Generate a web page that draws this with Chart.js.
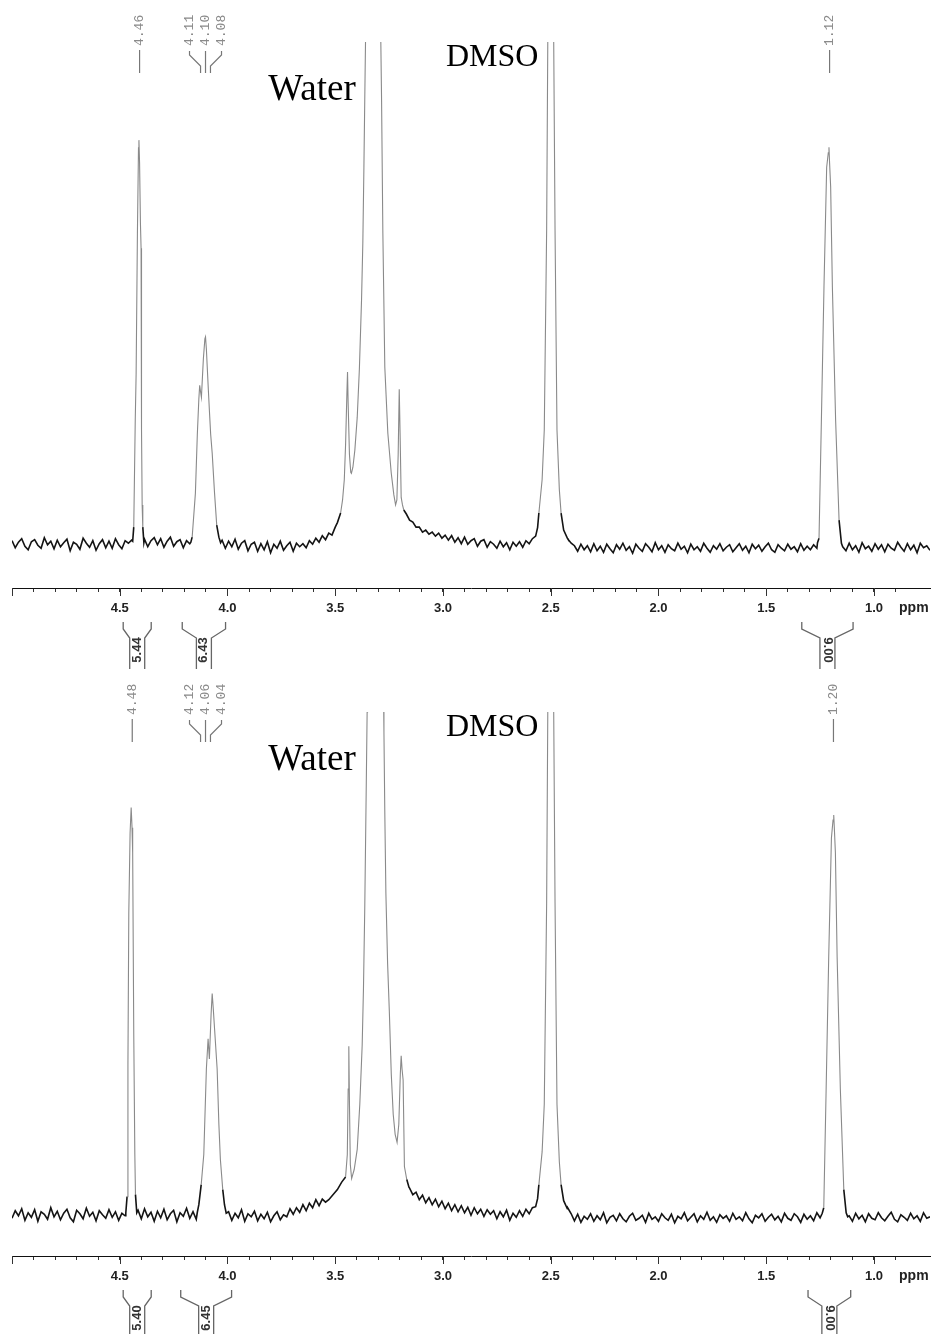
<!DOCTYPE html>
<html>
<head>
<meta charset="utf-8">
<script src="https://cdn.jsdelivr.net/npm/chart.js@4.4.1/dist/chart.umd.min.js"></script>
<style>
  body { margin: 0; background: #fff; }
  canvas { position: absolute; left: 0; }
  #topChart { top: 0; }
  #bottomChart { top: 669px; }
</style>
</head>
<body>
<canvas id="topChart" width="933" height="669"></canvas>
<canvas id="bottomChart" width="933" height="665"></canvas>
<script>
// baseline samples: one every 0.015 ppm, from 5.0 ppm down to 0.74 ppm
const gridStart = 5.0;
const gridStep = 0.015;

const topBaseline = [
  0.9,-0.5,0.6,1.3,-0.2,-0.9,0.7,1.1,0.0,-0.6,1.5,0.1,0.8,-0.7,1.0,
  -0.3,0.5,1.2,-1.1,0.6,0.2,-0.8,1.4,0.4,-0.4,0.9,-1.0,0.3,1.1,-0.5,
  0.8,-0.6,1.3,0.1,-0.7,0.9,0.4,1.0,0.5,0.5,0.5,1.2,-0.3,0.9,1.5,
  0.1,1.3,-0.4,0.8,1.6,-0.2,0.7,1.1,-0.5,0.9,0.3,0.5,0.5,0.5,0.5,
  0.5,0.5,0.5,0.5,0.5,1.0,-0.6,0.8,-0.3,1.2,-0.8,0.4,0.9,-1.1,0.2,
  0.6,-1.2,0.3,-0.9,0.7,-1.5,0.2,-0.6,0.8,-1.0,-0.1,0.6,-1.2,0.4,-0.3,
  0.3,-0.5,0.9,0.2,1.4,0.6,1.9,1.1,2.4,2.0,3.6,0,0,0,0,
  0,0,0,0,0,0,0,0,0,0,0,0,0,0,0,
  0,0,6.2,5.0,4.6,3.6,3.6,2.6,3.0,2.2,2.6,1.8,2.4,1.4,2.0,
  1.0,1.9,0.6,1.5,0.3,1.6,0.2,0.9,1.3,-0.2,0.8,1.1,-0.4,0.7,0.2,
  -0.6,0.8,-0.3,0.5,-0.9,0.6,-0.2,0.7,-0.4,0.9,0.3,1.3,1.8,0,0,
  0,0,0,0,0,0,0,1.2,0.4,-0.1,-1.2,0.2,-0.9,-0.1,-1.3,
  0.3,-1.1,-0.2,-1.4,0.2,-0.7,-1.5,0.1,-0.8,0.4,-1.0,-0.3,-1.6,0.2,-0.6,
  -1.2,0.3,-0.4,-1.3,0.5,-0.9,-0.1,-1.4,0.1,-0.7,-1.1,0.4,-0.8,-0.2,-1.5,
  0.2,-0.9,-0.3,-1.2,0.4,-0.6,-1.4,-0.1,-0.8,0.3,-1.1,-0.4,0.1,-1.3,-0.5,
  0.3,-1.0,-0.2,-1.5,0.2,-0.7,0.0,-1.2,-0.3,0.4,-0.9,-1.4,0.1,-0.6,-1.1,
  0.2,-0.8,-0.3,-1.3,0.3,-1.0,-0.2,-0.9,0.1,-0.6,0,0,0,0,0,
  0,0,0,-1.1,0.4,-0.9,-0.1,-1.4,0.5,-0.7,-0.2,-1.2,0.3,-0.8,0.1,
  -1.3,0.2,-0.6,-1.0,0.6,-0.4,-1.2,0.3,-0.9,0.0,-1.5,0.4,-0.5,-0.1,-1.0
];

const bottomBaseline = [
  -0.7,0.8,-0.2,1.2,-1.1,0.4,-0.5,1.0,-1.3,0.6,0.1,-0.9,1.4,-0.4,0.7,
  -1.0,0.3,1.1,-0.6,-1.4,0.9,0.2,-0.8,1.3,-0.3,0.5,-1.2,0.8,0.0,-0.7,
  1.0,-0.5,0.6,-1.1,0.3,-0.2,0,0,0,0.9,-0.8,1.2,-0.4,0.5,-1.3,
  0.7,-0.6,1.1,-1.0,0.2,0.9,-1.4,0.4,-0.3,1.3,-0.7,0.6,-0.9,0,0,
  0,0,0,0,0,0,0,0.6,-1.1,0.3,-0.6,1.0,-1.3,0.2,-0.4,
  0.7,-1.2,0.1,-0.8,0.5,-1.4,-0.2,0.6,-1.0,0.0,-0.4,1.2,0.1,1.4,0.5,
  2.0,0.8,2.3,1.4,3.0,1.8,3.1,2.5,0,0,0,0,0,0,0,
  0,0,0,0,0,0,0,0,0,0,0,0,0,0,0,
  0,0,0,5.3,4.0,4.5,3.0,3.9,2.4,3.4,2.0,3.1,1.6,2.7,1.2,
  2.3,0.8,2.0,0.6,1.8,0.4,1.5,-0.1,1.4,0.2,1.1,-0.3,1.0,0.1,0.8,
  -0.8,0.6,-0.4,0.9,-1.1,0.3,-0.5,0.8,-0.3,1.1,0.2,1.4,1.6,0,0,
  0,0,0,0,0,0,0,1.3,0.2,-1.2,0.1,-1.5,-0.3,-0.9,0.2,
  -1.3,-0.2,-1.0,0.4,-1.6,-0.5,-0.1,-1.2,0.2,-0.8,-1.4,-0.3,0.3,-1.1,-0.7,
  -0.1,-1.5,0.3,-0.9,-0.4,-1.3,0.2,-0.6,-1.1,0.1,-1.6,-0.3,-0.8,0.4,-1.2,
  -0.5,0.2,-1.4,-0.2,-0.9,0.5,-1.1,-0.4,-1.5,0.0,-0.7,-0.2,-1.3,0.3,-0.9,
  -0.4,-1.2,0.4,-0.8,-1.6,-0.1,-0.6,0.2,-1.3,-0.5,0.1,-1.0,-0.3,-1.4,0.3,
  -0.7,-1.1,0.2,-0.4,-1.5,0.1,-0.9,-0.2,-1.2,0.4,-0.6,0,0,0,0,
  0,0,0,0,-0.2,-1.3,0.3,-0.8,-0.1,-1.4,0.2,-0.7,-1.0,0.4,-0.6,
  -1.2,-0.3,0.5,-0.9,-1.4,0.0,-0.5,-1.1,0.3,-0.8,-0.2,-1.3,0.4,-0.7,-0.4
];

// peak regions, [ppm, intensity]; replace the baseline samples inside their span
const topPeaks = [
  [[4.440,0.8],[4.435,3.6],[4.428,25],[4.424,34],[4.418,62],[4.413,79],[4.411,80.5],[4.408,76],
   [4.404,64],[4.401,59],[4.399,23],[4.396,8],[4.393,3.6],[4.388,0.5]],
  [[4.170,0.6],[4.164,1.6],[4.149,10.3],[4.140,22],[4.133,29],[4.129,31.8],[4.125,30.5],[4.121,29.4],
   [4.112,37],[4.105,41],[4.102,41.4],[4.098,39],[4.094,35.4],[4.089,31],[4.084,26.8],[4.078,22],
   [4.071,18.3],[4.060,10.3],[4.050,4],[4.040,1.6],[4.032,0.5]],
  [[3.490,4.5],[3.475,6.4],[3.466,9],[3.458,13],[3.452,20],[3.446,30],[3.443,34.4],[3.440,28],
   [3.434,18],[3.428,14.5],[3.425,14.3],[3.418,15.5],[3.409,18.9],[3.398,25.4],[3.388,35],[3.378,48.7],
   [3.372,60],[3.367,75],[3.363,88.5],[3.358,105],[3.322,420],[3.290,105],[3.285,88.5],[3.279,62],
   [3.270,35.4],[3.256,22.3],[3.240,14.3],[3.228,10],[3.220,8],[3.214,9],[3.208,18],[3.203,31],
   [3.199,22],[3.194,9.5],[3.188,8],[3.182,7]],
  [[2.561,3.5],[2.555,6.4],[2.540,13],[2.530,22.9],[2.519,62.6],[2.513,105],[2.500,600],[2.487,105],
   [2.480,62.6],[2.471,22.9],[2.460,11],[2.452,6.4],[2.440,3],[2.423,1.4]],
  [[1.262,0.5],[1.255,1.4],[1.244,24.9],[1.232,51.3],[1.2195,75.1],[1.212,78],[1.2088,79.1],[1.206,76],
   [1.201,71.2],[1.193,51.3],[1.178,24.9],[1.162,5],[1.151,0.4],[1.145,-0.3]]
];

const bottomPeaks = [
  [[4.472,0.3],[4.466,3.6],[4.462,30],[4.458,60],[4.452,76],[4.447,81],[4.443,77],[4.440,72],
   [4.435,36],[4.430,12],[4.427,4],[4.421,0.4]],
  [[4.140,0.5],[4.133,2],[4.122,6],[4.110,12],[4.098,29],[4.090,35],[4.084,31],[4.076,40],
   [4.071,44],[4.066,41],[4.060,37],[4.048,29],[4.040,18],[4.033,11],[4.022,5],[4.014,2],[4.006,0.3]],
  [[3.530,3],[3.490,5],[3.470,6.5],[3.452,7.5],[3.444,12],[3.440,25],[3.437,33.5],[3.434,22],
   [3.430,10],[3.424,7.2],[3.412,9],[3.398,13],[3.386,22],[3.375,33.7],[3.369,45],[3.363,61],
   [3.357,82],[3.352,100],[3.350,108],[3.313,420],[3.277,108],[3.274,96],[3.270,80],[3.265,64],
   [3.257,50],[3.249,40.5],[3.240,28],[3.231,20],[3.222,16],[3.213,14.4],[3.205,18],[3.198,28],[3.194,31.6],
   [3.190,29],[3.185,26.8],[3.179,9.6],[3.168,7],[3.158,5.5]],
  [[2.561,3.2],[2.555,6],[2.540,12.5],[2.530,22],[2.519,62],[2.513,105],[2.500,600],[2.487,105],
   [2.480,62],[2.471,22],[2.460,10.5],[2.452,6],[2.440,2.8],[2.423,1.2]],
  [[1.240,0.3],[1.233,1.4],[1.222,24.9],[1.210,51.3],[1.1974,75],[1.190,78.5],[1.1867,79.5],[1.183,76],
   [1.179,72],[1.171,51.3],[1.156,24.9],[1.140,5],[1.129,0.4],[1.122,-0.4]]
];

// peak pick labels (text, ppm where the pointer ends)
const topShifts = [
  { text: ['4.46'], at: [4.408] },
  { text: ['4.11', '4.10', '4.08'], at: [4.125, 4.102, 4.079] },
  { text: ['1.12'], at: [1.206] }
];
const bottomShifts = [
  { text: ['4.48'], at: [4.442] },
  { text: ['4.12', '4.06', '4.04'], at: [4.125, 4.102, 4.079] },
  { text: ['1.20'], at: [1.188] }
];

// integrals: [from ppm, to ppm, value]
const topIntegrals = [[4.484, 4.354, '5.44'], [4.210, 4.009, '6.43'], [1.335, 1.097, '9.00']];
const bottomIntegrals = [[4.484, 4.354, '5.40'], [4.217, 3.981, '6.45'], [1.306, 1.108, '9.00']];
const integralAngles = [-90, -90, 90];

// solvent names and the ppm their right edge sits at
const solvents = [['Water', 3.405], ['DMSO', 2.557]];

const isMajor = v => Math.abs(v * 2 - Math.round(v * 2)) < 1e-6;

function buildSpectrum(baseline, peaks) {
  const spans = peaks.map(p => [Math.min(...p.map(q => q[0])), Math.max(...p.map(q => q[0]))]);
  const pts = [];
  baseline.forEach((v, i) => {
    const x = +(gridStart - i * gridStep).toFixed(3);
    if (!spans.some(s => x >= s[0] && x <= s[1])) pts.push({ x: x, y: v });
  });
  peaks.forEach(p => p.forEach(q => pts.push({ x: q[0], y: q[1] })));
  pts.sort((a, b) => b.x - a.x);
  return pts;
}

function decor(spec) {
  return {
    id: 'decor',
    afterDraw(chart) {
      const ctx = chart.ctx;
      const area = chart.chartArea;
      const x = chart.scales.x;
      ctx.save();

      // longer ticks every 0.5 ppm
      ctx.strokeStyle = '#333';
      ctx.lineWidth = 1;
      x.ticks.forEach(t => {
        if (!isMajor(t.value)) return;
        const px = Math.round(x.getPixelForValue(t.value)) + 0.5;
        ctx.beginPath();
        ctx.moveTo(px, area.bottom);
        ctx.lineTo(px, area.bottom + 8);
        ctx.stroke();
      });

      ctx.fillStyle = '#222';
      ctx.font = 'bold 14px "Liberation Sans", Arial, sans-serif';
      ctx.textAlign = 'center';
      ctx.textBaseline = 'top';
      ctx.fillText('ppm', x.getPixelForValue(0.815), area.bottom + 13);

      // peak pick labels
      ctx.font = '13px "Liberation Mono", "DejaVu Sans Mono", monospace';
      ctx.fillStyle = '#8a8a8a';
      ctx.strokeStyle = '#777';
      ctx.lineWidth = 1.2;
      spec.shifts.forEach(g => {
        const n = g.text.length;
        const pxs = g.at.map(v => x.getPixelForValue(v));
        const mid = pxs.reduce((a, b) => a + b, 0) / n;
        g.text.forEach((t, k) => {
          const tx = n === 1 ? pxs[k] : mid + (k - (n - 1) / 2) * 16;
          ctx.save();
          ctx.translate(tx, 46);
          ctx.rotate(-Math.PI / 2);
          ctx.textAlign = 'left';
          ctx.textBaseline = 'middle';
          ctx.fillText(t, 0, 0);
          ctx.restore();
          ctx.beginPath();
          if (n === 1) {
            ctx.moveTo(tx, 50);
          } else {
            ctx.moveTo(tx, 51);
            ctx.lineTo(tx, 55);
            ctx.lineTo(pxs[k], 66);
          }
          ctx.lineTo(pxs[k], 73);
          ctx.stroke();
        });
      });

      // integral brackets below the axis
      ctx.strokeStyle = '#666';
      ctx.lineWidth = 1.3;
      ctx.fillStyle = '#333';
      ctx.font = 'bold 13px "Liberation Sans", Arial, sans-serif';
      spec.integrals.forEach(([a, b, label], k) => {
        const xa = x.getPixelForValue(a), xb = x.getPixelForValue(b);
        const mid = (xa + xb) / 2;
        const y0 = area.bottom + 34, y1 = y0 + 7, y2 = y0 + 16, yEnd = chart.height;
        ctx.beginPath();
        ctx.moveTo(xa, y0); ctx.lineTo(xa, y1); ctx.lineTo(mid - 7.5, y2); ctx.lineTo(mid - 7.5, yEnd);
        ctx.moveTo(xb, y0); ctx.lineTo(xb, y1); ctx.lineTo(mid + 7.5, y2); ctx.lineTo(mid + 7.5, yEnd);
        ctx.stroke();
        ctx.save();
        ctx.translate(mid, y0 + 28);
        ctx.rotate(integralAngles[k] * Math.PI / 180);
        ctx.textAlign = 'center';
        ctx.textBaseline = 'middle';
        ctx.fillText(label, 0, 0);
        ctx.restore();
      });

      // solvent names
      ctx.fillStyle = '#000';
      ctx.textAlign = 'right';
      ctx.textBaseline = 'alphabetic';
      ctx.font = '37px "Liberation Serif", "Times New Roman", serif';
      ctx.fillText(solvents[0][0], x.getPixelForValue(solvents[0][1]), area.top + 58);
      ctx.font = '32px "Liberation Serif", "Times New Roman", serif';
      ctx.fillText(solvents[1][0], x.getPixelForValue(solvents[1][1]), area.top + 24);

      ctx.restore();
    }
  };
}

const isNoise = c => Math.max(c.p0.parsed.y, c.p1.parsed.y) < 8;

function makeChart(id, points, opts) {
  return new Chart(document.getElementById(id), {
    type: 'line',
    data: {
      datasets: [{
        data: points,
        borderColor: '#8a8a8a',
        borderWidth: 1.1,
        pointRadius: 0,
        tension: 0,
        fill: false,
        segment: {
          borderColor: c => isNoise(c) ? '#141414' : '#8a8a8a',
          borderWidth: c => isNoise(c) ? 1.6 : 1.1
        }
      }]
    },
    options: {
      animation: false,
      responsive: false,
      events: [],
      layout: { padding: { top: opts.padTop, left: 12, right: 3, bottom: 0 } },
      plugins: { legend: { display: false }, tooltip: { enabled: false } },
      scales: {
        x: {
          type: 'linear',
          reverse: true,
          min: 0.74,
          max: 5.0,
          afterBuildTicks: s => {
            s.ticks = s.ticks.filter(t => Math.abs(t.value * 10 - Math.round(t.value * 10)) < 1e-6);
          },
          afterFit: s => { s.height = opts.axisHeight; },
          ticks: {
            stepSize: 0.1,
            autoSkip: false,
            maxRotation: 0,
            padding: 9,
            color: '#222',
            font: { family: '"Liberation Sans", Arial, sans-serif', size: 13, weight: 'bold' },
            callback: v => (isMajor(v) && v < 4.95) ? v.toFixed(1) : ''
          },
          grid: { drawOnChartArea: false, tickLength: 4, tickColor: '#333' },
          border: { display: true, color: '#111', width: 1 }
        },
        y: { display: false, min: opts.yMin, max: 100 }
      }
    },
    plugins: [decor(opts)]
  });
}

makeChart('topChart', buildSpectrum(topBaseline, topPeaks), {
  padTop: 42, axisHeight: 81, yMin: -8.5, shifts: topShifts, integrals: topIntegrals
});
makeChart('bottomChart', buildSpectrum(bottomBaseline, bottomPeaks), {
  padTop: 43, axisHeight: 78, yMin: -8.2, shifts: bottomShifts, integrals: bottomIntegrals
});
</script>
</body>
</html>
